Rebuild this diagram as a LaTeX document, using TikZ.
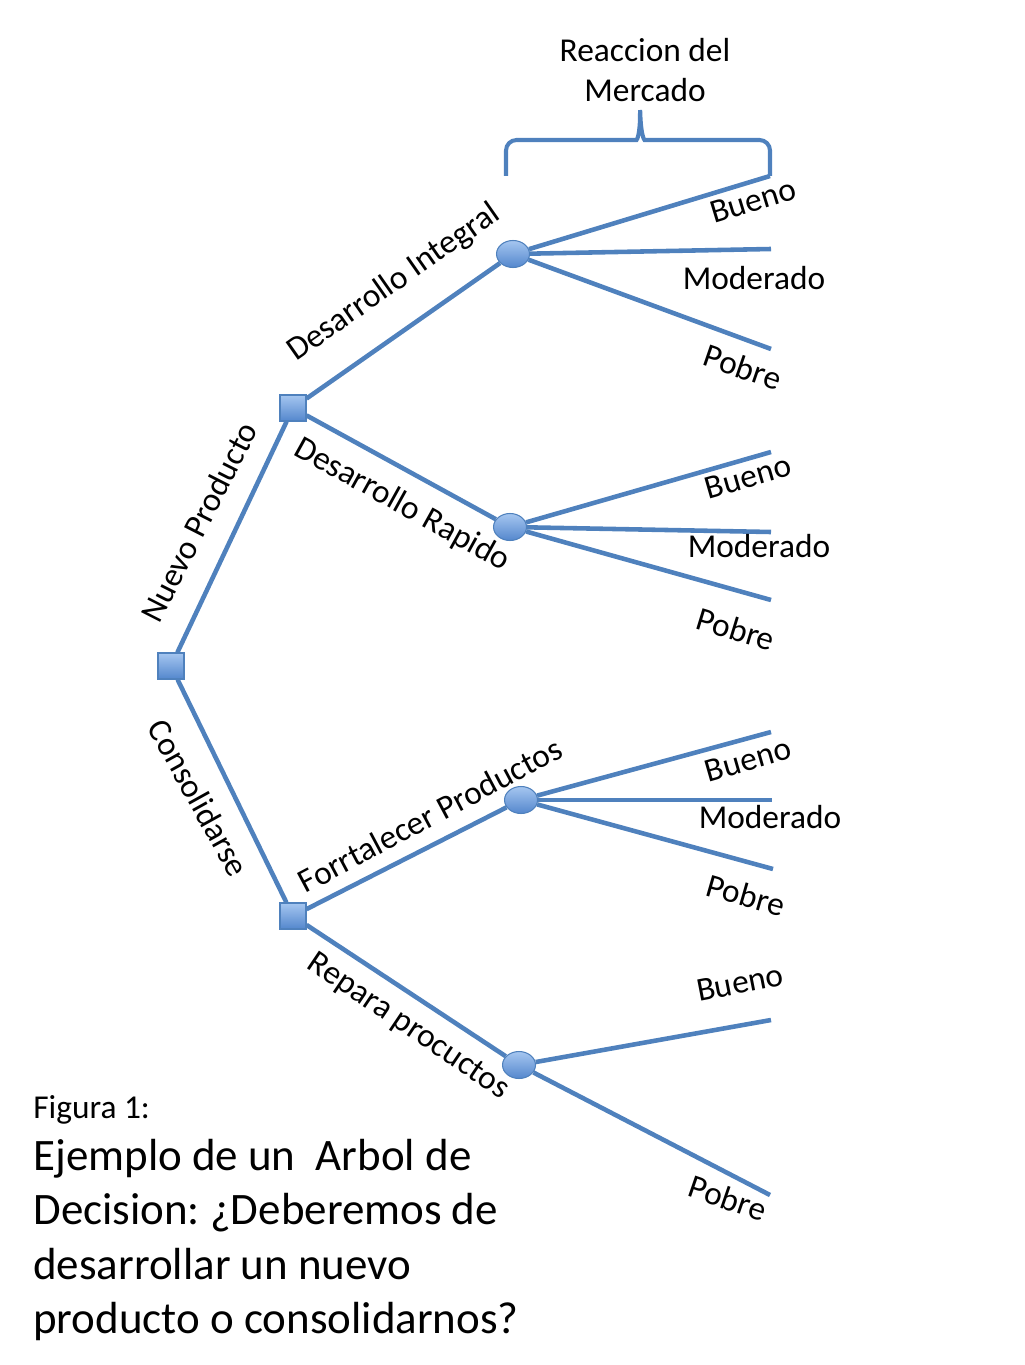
\documentclass[tikz,border=0pt]{standalone}
\usepackage{fontspec}
\setmainfont{Carlito}
\usepackage{xcolor}
\usepackage{tikz}
\usetikzlibrary{shapes.geometric}
\frenchspacing

\begin{document}
\begin{tikzpicture}[x=0.02cm, y=-0.02cm,
    rama/.style={draw=azulrama, line width=2.6pt},
    decision/.style={rectangle, draw=azulrama, line width=0.6pt, top color=azulclaro, bottom color=azulnodo, minimum size=0.52cm, inner sep=0pt},
    azar/.style={ellipse, draw=azulrama, line width=0.6pt, top color=azulclaro, bottom color=azulnodo, minimum width=0.66cm, minimum height=0.54cm, inner sep=0pt},
    etiq/.style={font=\fontsize{19}{23}\selectfont, inner sep=0pt},
    titulo/.style={font=\fontsize{25.6}{31}\selectfont, inner sep=0pt, anchor=base west}]
    % Colores
    \definecolor{azulrama}{RGB}{79,129,189}
    \definecolor{azulclaro}{RGB}{165,198,240}
    \definecolor{azulnodo}{RGB}{84,135,205}
    \useasboundingbox (0,0) rectangle (1024,1365);

    % 1. Nodos de decision y de azar
    \node[decision] (raiz) at (171,666) {};
    \node[decision] (nuevo) at (293,408) {};
    \node[decision] (consol) at (293,916) {};
    \node[azar] (integral) at (513,254) {};
    \node[azar] (rapido) at (510,527) {};
    \node[azar] (fortal) at (521,800) {};
    \node[azar] (repara) at (519,1065) {};

    % 2. Extremos de las ramas
    \coordinate (iB) at (770,176);
    \coordinate (iM) at (771,249);
    \coordinate (iP) at (771,349);
    \coordinate (rB) at (771,452);
    \coordinate (rM) at (771,532);
    \coordinate (rP) at (771,600);
    \coordinate (fB) at (771,732);
    \coordinate (fM) at (772,800);
    \coordinate (fP) at (773,869);
    \coordinate (pB) at (771,1020);
    \coordinate (pP) at (770,1195);

    % 3. Ramas
    \draw[rama] (raiz) -- (nuevo);
    \draw[rama] (raiz) -- (consol);
    \draw[rama] (nuevo) -- (integral);
    \draw[rama] (nuevo) -- (rapido);
    \draw[rama] (consol) -- (fortal);
    \draw[rama] (consol) -- (repara);
    \draw[rama] (integral) -- (iB);
    \draw[rama] (integral) -- (iM);
    \draw[rama] (integral) -- (iP);
    \draw[rama] (rapido) -- (rB);
    \draw[rama] (rapido) -- (rM);
    \draw[rama] (rapido) -- (rP);
    \draw[rama] (fortal) -- (fB);
    \draw[rama] (fortal) -- (fM);
    \draw[rama] (fortal) -- (fP);
    \draw[rama] (repara) -- (pB);
    \draw[rama] (repara) -- (pP);

    % 4. Llave superior
    \draw[rama, line width=2.3pt, rounded corners=6pt]
        (506,176) -- (506,140) -- (626,140)
        .. controls (637,140) and (640,134) .. (640,104)
        .. controls (641,134) and (644,140) .. (655,140)
        -- (770,140) -- (770,176);
    \node[etiq] (reac1) at (645,50) {Reaccion del};
    \node[etiq] (reac2) at (645,90) {Mercado};

    % 5. Etiquetas de las decisiones
    \node[etiq, rotate=63] (lnuevo) at (199,522) {Nuevo Producto};
    \node[etiq, rotate=-61] (lconsol) at (199,798) {Consolidarse};
    \node[etiq, rotate=35] (lintegral) at (394,283) {Desarrollo Integral};
    \node[etiq, rotate=-29] (lrapido) at (402,505) {Desarrollo Rapido};
    \node[etiq, rotate=28] (lfortal) at (430,815) {Forrtalecer Productos};
    \node[etiq, rotate=-34] (lrepara) at (408,1027) {Repara procuctos};

    % 6. Etiquetas de los resultados
    \node[etiq, rotate=17] (liB) at (753,201) {Bueno};
    \node[etiq] (liM) at (754,278) {Moderado};
    \node[etiq, rotate=-19] (liP) at (743,367) {Pobre};
    \node[etiq, rotate=16] (lrB) at (748,477) {Bueno};
    \node[etiq] (lrM) at (759,546) {Moderado};
    \node[etiq, rotate=-17] (lrP) at (736,629) {Pobre};
    \node[etiq, rotate=16] (lfB) at (748,760) {Bueno};
    \node[etiq] (lfM) at (770,817) {Moderado};
    \node[etiq, rotate=-16] (lfP) at (746,895) {Pobre};
    \node[etiq, rotate=11] (lpB) at (740,983) {Bueno};
    \node[etiq, rotate=-19] (lpP) at (728,1198) {Pobre};

    % 7. Pie de figura
    \node[etiq, anchor=base west] (fig) at (33,1118) {Figura 1:};
    \node[titulo] (tit1) at (33,1170) {Ejemplo de un\ \ Arbol de};
    \node[titulo] (tit2) at (33,1224) {Decision: ¿Deberemos de};
    \node[titulo] (tit3) at (33,1279) {desarrollar un nuevo};
    \node[titulo] (tit4) at (33,1333) {producto o consolidarnos?};
\end{tikzpicture}
\end{document}
